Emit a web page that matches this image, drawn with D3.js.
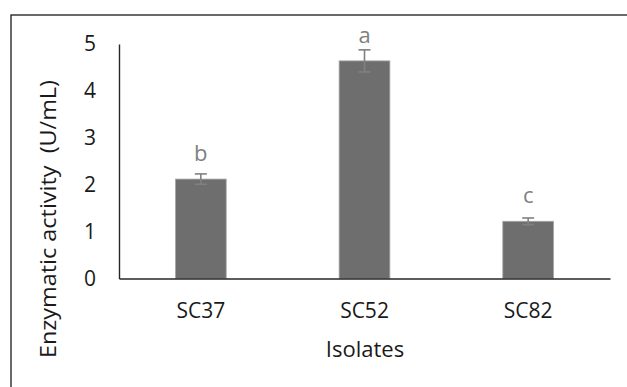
<!DOCTYPE html>
<meta charset="utf-8">
<style>
body { margin: 0; background: #fff; }
svg { font-family: "Open Sans", sans-serif; }
.bar { fill: #6e6e6e; stroke: #a6a6a6; stroke-width: 0.8; }
.err { stroke: #808080; stroke-width: 1.6; fill: none; }
.sig { fill: #808080; font-size: 22px; text-anchor: middle; }
.tick-label { fill: #1a1a1a; font-size: 21px; font-family: "Open Sans", sans-serif; }
</style>
<svg width="627" height="387"></svg>
<script src="https://d3js.org/d3.v7.min.js"></script>
<script>
var isolates = ['SC37', 'SC52', 'SC82'];
var activity = [2.12, 4.64, 1.22];
var errors   = [0.11, 0.235, 0.07];
var letters  = ['b', 'a', 'c'];
var yTicks   = [0, 1, 2, 3, 4, 5];

var svg = d3.select("svg");

// outer frame (right and bottom edges are cut off in the original)
svg.append("rect")
    .attr("x", 11).attr("y", 15)
    .attr("width", 700).attr("height", 500)
    .attr("fill", "none").attr("stroke", "#1a1a1a").attr("stroke-width", 1.3);

var plotLeft = 119, plotRight = 610, plotTop = 44, plotBottom = 278.5;

var x = d3.scaleBand().domain(isolates).range([plotLeft, plotRight]).paddingInner(0.69).paddingOuter(0.345);
var y = d3.scaleLinear().domain([0, 5]).range([plotBottom, plotTop]);

var data = isolates.map(function(d, i) {
    return {name: d, v: activity[i], e: errors[i], l: letters[i]};
});

svg.selectAll(".bar")
    .data(data)
    .enter().append("rect")
        .attr("class", "bar")
        .attr("x", function(d) { return x(d.name); })
        .attr("width", x.bandwidth())
        .attr("y", function(d) { return y(d.v); })
        .attr("height", function(d) { return y(0) - y(d.v); });

// error bars
var eb = svg.selectAll(".eb").data(data).enter().append("g").attr("class", "err");
eb.append("line")
    .attr("x1", function(d) { return x(d.name) + x.bandwidth() / 2; })
    .attr("x2", function(d) { return x(d.name) + x.bandwidth() / 2; })
    .attr("y1", function(d) { return y(d.v + d.e); })
    .attr("y2", function(d) { return y(d.v - d.e); });
eb.selectAll(".cap")
    .data(function(d) { return [d.v + d.e, d.v - d.e].map(function(v) { return {name: d.name, v: v}; }); })
    .enter().append("line")
    .attr("x1", function(d) { return x(d.name) + x.bandwidth() / 2 - 6; })
    .attr("x2", function(d) { return x(d.name) + x.bandwidth() / 2 + 6; })
    .attr("y1", function(d) { return y(d.v); })
    .attr("y2", function(d) { return y(d.v); });

// significance letters sit a fixed distance above the bar top
svg.selectAll(".sig")
    .data(data)
    .enter().append("text")
    .attr("class", "sig")
    .attr("x", function(d) { return x(d.name) + x.bandwidth() / 2; })
    .attr("y", function(d) { return y(d.v) - 18; })
    .text(function(d) { return d.l; });

// axes
var yAxis = svg.append("g")
    .attr("transform", "translate(" + plotLeft + ",0)")
    .call(d3.axisLeft(y).tickValues(yTicks).tickSize(0).tickPadding(23).tickFormat(d3.format("d")));
var xAxis = svg.append("g")
    .attr("transform", "translate(0," + plotBottom + ")")
    .call(d3.axisBottom(x).tickSize(0).tickPadding(25));

[xAxis, yAxis].forEach(function(g) {
    g.attr("font-family", null).attr("font-size", null);
    g.select(".domain").attr("stroke", "#262626").attr("stroke-width", 1.4);
    g.selectAll("text").attr("class", "tick-label");
});

svg.append("text")
    .attr("x", 365).attr("y", 357)
    .attr("text-anchor", "middle")
    .attr("fill", "#1a1a1a").style("font-size", "22px")
    .text("Isolates");

svg.append("text")
    .attr("transform", "translate(56,219) rotate(-90)")
    .attr("text-anchor", "middle")
    .attr("fill", "#1a1a1a").style("font-size", "22px")
    .attr("xml:space", "preserve")
    .attr("textLength", 278).attr("lengthAdjust", "spacingAndGlyphs")
    .text("Enzymatic activity  (U/mL)");
</script>
